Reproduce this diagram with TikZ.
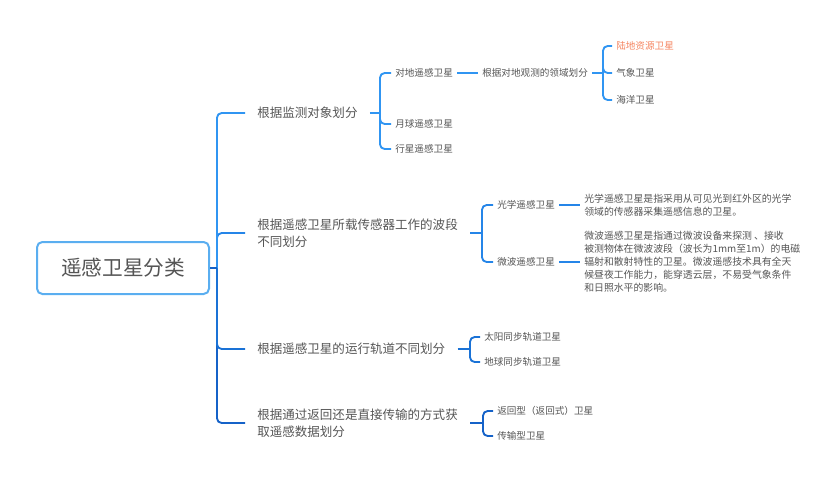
\documentclass[tikz,border=0pt]{standalone}
\usepackage{fontspec}
\newfontfamily\cjk{Noto Sans CJK SC}
\usetikzlibrary{positioning}
\definecolor{inkA}{HTML}{3095F2}
\definecolor{inkB}{HTML}{2585E8}
\definecolor{inkC}{HTML}{1A72D6}
\definecolor{inkD}{HTML}{1562C8}
\definecolor{frame}{HTML}{5AAEF0}
\definecolor{txt}{HTML}{555555}
\definecolor{hot}{HTML}{F5845F}

\begin{document}
\begin{tikzpicture}[x=0.75pt,y=-0.75pt,
  root/.style={draw=frame,line width=1.5pt,rounded corners=4pt,fill=white,
    minimum width=129pt,minimum height=39pt,text=txt,
    font=\cjk\fontsize{15.5}{18}\selectfont},
  lvlone/.style={anchor=west,inner xsep=9pt,align=left,text=txt,
    font=\cjk\fontsize{9.4}{12.75}\selectfont},
  leaf/.style={anchor=west,inner xsep=3pt,text=txt,
    font=\cjk\fontsize{7.2}{9}\selectfont},
  note/.style={anchor=west,inner xsep=3pt,align=left,text=txt,
    font=\cjk\fontsize{7.4}{9.75}\selectfont},
  wire/.style={line width=1.4pt,rounded corners=3.5pt}]
 \useasboundingbox (0,0) rectangle (831,483);

 % root and the four ways of sorting
 \node[root] (root) at (123,268) {遥感卫星分类};
 \coordinate (s0) at (217,268);
 \node[lvlone] (b1) at (245,113) {根据监测对象划分};
 \node[lvlone] (b2) at (245,233) {根据遥感卫星所载传感器工作的波段\\不同划分};
 \node[lvlone] (b3) at (245,349) {根据遥感卫星的运行轨道不同划分};
 \node[lvlone] (b4) at (245,423) {根据通过返回还是直接传输的方式获\\取遥感数据划分};
 \draw[wire,inkD] (s0) |- (b4.west);
 \draw[wire,inkC] (s0) |- (b3.west);
 \draw[wire,inkB] (s0) |- (b2.west);
 \draw[wire,inkA] (s0) |- (b1.west);
 \draw[wire,inkD] (root.east) -- (s0);

 % by observed object
 \node[leaf] (c11) at (391,73) {对地遥感卫星};
 \node[leaf] (c12) at (391,124) {月球遥感卫星};
 \node[leaf] (c13) at (391,149) {行星遥感卫星};
 \coordinate (f1) at (380,113);
 \draw[wire,inkA] (b1.east) -- (f1);
 \foreach \c in {c11,c12,c13}
   \draw[wire,inkA] (f1) |- (\c.west);
 \node[leaf] (d1) at (478,73) {根据对地观测的领域划分};
 \draw[wire,inkA] (c11.east) -- (d1.west);
 \node[leaf,text=hot] (e1) at (612,46) {陆地资源卫星};
 \node[leaf] (e2) at (612,73) {气象卫星};
 \node[leaf] (e3) at (612,100) {海洋卫星};
 \coordinate (g1) at (603,73);
 \draw[wire,inkA] (d1.east) -- (g1);
 \foreach \e in {e1,e2,e3}
   \draw[wire,inkA] (g1) |- (\e.west);

 % by sensor band
 \node[leaf] (c21) at (493,205) {光学遥感卫星};
 \node[leaf] (c22) at (493,262) {微波遥感卫星};
 \coordinate (f2) at (482,233);
 \draw[wire,inkB] (b2.east) -- (f2);
 \foreach \c in {c21,c22}
   \draw[wire,inkB] (f2) |- (\c.west);
 \node[note] (n1) at (580,205) {光学遥感卫星是指采用从可见光到红外区的光学\\
   领域的传感器采集遥感信息的卫星。};
 \node[note] (n2) at (580,262) {微波遥感卫星是指通过微波设备来探测 、接收\\
   被测物体在微波波段（波长为1mm至1m）的电磁\\
   辐射和散射特性的卫星。微波遥感技术具有全天\\
   候昼夜工作能力，能穿透云层，不易受气象条件\\
   和日照水平的影响。};
 \draw[wire,inkB] (c21.east) -- (n1.west);
 \draw[wire,inkB] (c22.east) -- (n2.west);

 % by orbit
 \node[leaf] (c31) at (480,337) {太阳同步轨道卫星};
 \node[leaf] (c32) at (480,362) {地球同步轨道卫星};
 \coordinate (f3) at (470,349);
 \draw[wire,inkC] (b3.east) -- (f3);
 \foreach \c in {c31,c32}
   \draw[wire,inkC] (f3) |- (\c.west);

 % by data return
 \node[leaf] (c41) at (493,411) {返回型（返回式）卫星};
 \node[leaf] (c42) at (493,436) {传输型卫星};
 \coordinate (f4) at (483,423);
 \draw[wire,inkD] (b4.east) -- (f4);
 \foreach \c in {c41,c42}
   \draw[wire,inkD] (f4) |- (\c.west);
\end{tikzpicture}
\end{document}
